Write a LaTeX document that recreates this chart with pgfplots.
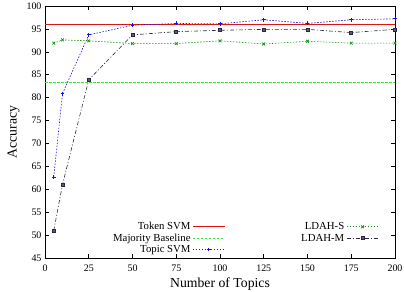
\documentclass[border=0pt]{standalone}
\usepackage{fontspec}
\setmainfont{Liberation Serif}
\usepackage{pgfplots}
\pgfplotsset{compat=1.18}

\definecolor{tokenred}{RGB}{220,20,20}
\definecolor{majgreen}{RGB}{60,230,60}
\definecolor{topicblue}{RGB}{20,20,230}
\definecolor{ldahsgreen}{RGB}{20,150,20}
\definecolor{ldahmgray}{RGB}{40,40,70}

\begin{document}
\begin{tikzpicture}
\begin{axis}[
  at={(0,0)}, anchor=south west,
  scale only axis,
  width=350bp, height=252bp,
  xmin=0, xmax=200, ymin=45, ymax=100,
  xtick={0,25,...,200},
  ytick={45,50,...,100},
  tick align=inside,
  tick style={black, line width=0.6pt},
  major tick length=4bp,
  axis line style={black, line width=0.8pt},
  tick label style={font=\fontsize{10}{10}\selectfont},
  xticklabel style={yshift=-3bp},
  /pgf/number format/assume math mode=true,
  xlabel={Number of Topics},
  ylabel={Accuracy},
  label style={font=\fontsize{13.8}{14}\selectfont},
  xlabel style={yshift=0bp},
  ylabel style={yshift=0bp},
  legend columns=2,
  legend plot pos=right,
  legend cell align=right,
  legend style={draw=none, fill=none, at={(0.963,0.0)}, anchor=south east,
    font=\fontsize{10.8}{10.8}\selectfont, row sep=-1.5bp,
    /tikz/every even column/.append style={column sep=74bp}},
  legend image code/.code={%
    \draw[mark repeat=2, mark phase=2, #1]
      plot coordinates {(0bp,0bp) (16bp,0bp) (32bp,0bp)};},
]
% Token SVM
\addplot[tokenred, line width=0.7pt] coordinates {(0,96.0) (200,96.0)};
\addlegendentry{Token SVM}
% LDAH-S
\addplot[ldahsgreen, dash pattern=on 1.5bp off 1.5bp, line width=0.6pt, mark=x, mark size=2pt,
  mark options={ldahsgreen, solid, line width=0.8pt}]
  coordinates {(5,91.9) (10,92.6) (25,92.4) (50,91.8) (75,91.8) (100,92.4) (125,91.7) (150,92.3) (175,91.9) (200,91.9)};
\addlegendentry{LDAH-S}
% Majority Baseline
\addplot[majgreen, dash pattern=on 2.5bp off 1.5bp, line width=0.7pt] coordinates {(0,83.3) (200,83.3)};
\addlegendentry{Majority Baseline}
% LDAH-M
\addplot[ldahmgray, dash pattern=on 4bp off 2bp on 1bp off 2bp, line width=0.6pt, mark=square*, mark size=1.5pt,
  mark options={ldahmgray, solid, fill=gray!60!ldahmgray}]
  coordinates {(5,51.0) (10,61.0) (25,83.9) (50,93.7) (75,94.4) (100,94.7) (125,94.9) (150,94.9) (175,94.2) (200,94.9)};
\addlegendentry{LDAH-M}
% Topic SVM
\addplot[topicblue, dash pattern=on 1.5bp off 1.5bp, line width=0.6pt, mark=+, mark size=2pt,
  mark options={topicblue, solid, line width=0.8pt}]
  coordinates {(5,62.7) (10,80.9) (25,93.7) (50,95.8) (75,96.2) (100,96.1) (125,97.0) (150,96.2) (175,97.0) (200,97.2)};
\addlegendentry{Topic SVM}
\end{axis}
\pgfresetboundingbox
\path[use as bounding box] (-45bp,-34bp) rectangle (359bp,258bp);
\end{tikzpicture}
\end{document}
